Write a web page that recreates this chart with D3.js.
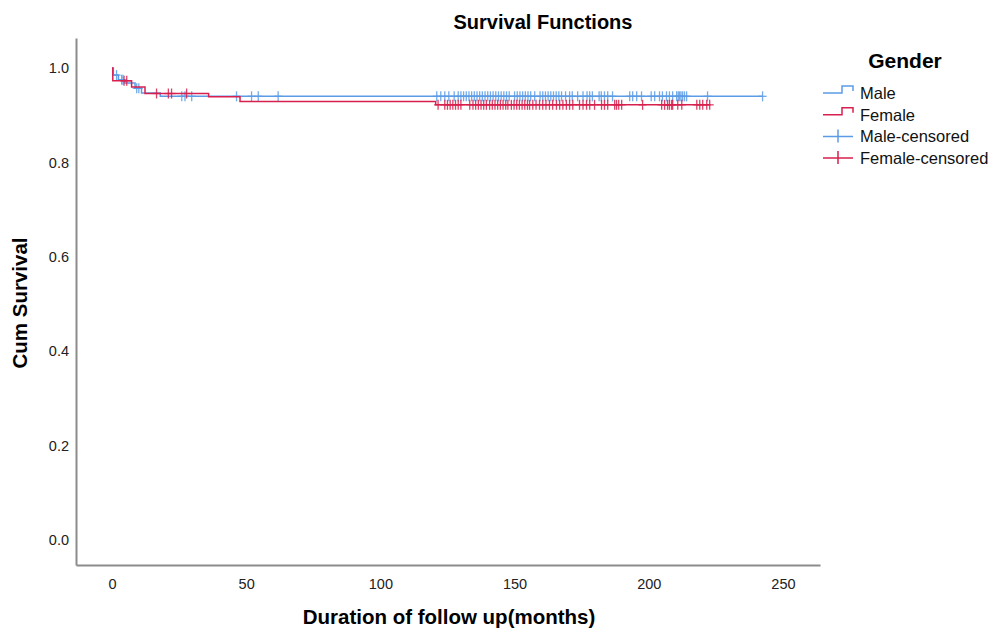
<!DOCTYPE html>
<html>
<head>
<meta charset="utf-8">
<script src="https://cdn.jsdelivr.net/npm/d3@7"></script>
<style>
  body { margin: 0; background: #fff; }
  text { font-family: Arial, "Liberation Sans", sans-serif; }
</style>
</head>
<body>
<script>
// step changes of the survival curves (time in months, cumulative survival)
const maleTimes = [0, 0.5, 2.4, 4.8, 8.6, 11, 18];
const maleSurv = [1.0, 0.985, 0.975, 0.968, 0.957, 0.947, 0.940];
const maleEnd = 242.4;

const femaleTimes = [0, 0.3, 7.3, 12.3, 36, 47.7, 120.6];
const femaleSurv = [1.0, 0.973, 0.960, 0.946, 0.939, 0.929, 0.922];
const femaleEnd = 222.7;

// censored observations
const maleCensored = [1.7, 3.6, 4.1, 9.2, 10, 26, 27.2, 29.7, 46.4, 52, 54.5, 61.9,
  121, 122.5, 124, 125.5, 127.5, 129, 130, 131, 132, 133, 134, 135, 136, 137, 138, 139,
  140, 141, 142, 143, 144, 145, 146, 147, 148, 150, 151, 152, 153, 154, 155, 156, 157.5,
  159.5, 160.5, 161.5, 162.5, 163.5, 164.5, 165.5, 166.5, 167.5, 169, 170.5, 171.5, 173.5,
  175.5, 177, 178, 179, 181.5, 182.3, 183.5, 184.7, 186.5, 192.9, 194, 195.5, 197.3, 200.9,
  202.2, 204, 205.1, 206.6, 207.7, 208.9, 210.4, 211, 211.5, 212, 212.6, 213.3, 214.1,
  221.9, 242.4];
const femaleCensored = [4.5, 5.5, 16.6, 21, 22.2, 27.8,
  121.5, 124, 125, 126, 127, 128, 129, 130, 133.3, 134.5, 135.5, 136.5, 137.5, 138.5, 139.5,
  140.7, 141.7, 142.7, 143.7, 144.7, 145.7, 146.7, 147.5, 148.8, 149.8, 150.8, 151.8, 152.8,
  153.8, 154.8, 155.6, 156.8, 158, 159.3, 160.5, 161.7, 163, 164.2, 165.6, 166.8, 168, 169.3,
  170.5, 171.7, 174.2, 175.5, 176.8, 178, 179.8, 182.4, 183.5, 184.7, 187.3, 188, 188.8,
  189.9, 197.7, 204.8, 205.9, 207, 207.7, 208.5, 208.9, 210.8, 212.3, 217.9, 219, 220.1,
  221.6, 222.7];

const xTicks = [0, 50, 100, 150, 200, 250];
const yTicks = [0, 0.2, 0.4, 0.6, 0.8, 1.0];
const legendLabels = ["Male", "Female", "Male-censored", "Female-censored"];

const blue = "#5c9ce6";
const red = "#d8204e";

const width = 991, height = 628;
const svg = d3.select("body").append("svg")
  .attr("width", width)
  .attr("height", height);

const x = d3.scaleLinear().domain([-13.41, 263.8]).range([76, 820]);
const y = d3.scaleLinear().domain([-0.053, 1.0636]).range([565, 38]);

// axes
const xAxis = svg.append("g")
  .attr("transform", "translate(0,565)")
  .call(d3.axisBottom(x).tickValues(xTicks).tickSize(0).tickPadding(14));
const yAxis = svg.append("g")
  .attr("transform", "translate(76,0)")
  .call(d3.axisLeft(y).tickValues(yTicks).tickFormat(d3.format(".1f")).tickSize(0).tickPadding(7));

[xAxis, yAxis].forEach(g => {
  g.select(".domain").attr("stroke", "#8c8c8c").attr("stroke-width", 2);
  g.selectAll("text").attr("fill", "#222").style("font-size", "14.5px");
});

// step lines
const stepLine = d3.line()
  .x(d => x(d[0]))
  .y(d => y(d[1]))
  .curve(d3.curveStepAfter);

function curvePoints(times, surv, end) {
  const pts = times.map((t, i) => [t, surv[i]]);
  pts.push([end, surv[surv.length - 1]]);
  return pts;
}

function survAt(times, surv, t) {
  let v = surv[0];
  times.forEach((tt, i) => { if (tt <= t) v = surv[i]; });
  return v;
}

const groups = [
  { times: maleTimes, surv: maleSurv, end: maleEnd, cens: maleCensored, color: blue },
  { times: femaleTimes, surv: femaleSurv, end: femaleEnd, cens: femaleCensored, color: red }
];

groups.forEach(g => {
  svg.append("path")
    .datum(curvePoints(g.times, g.surv, g.end))
    .attr("fill", "none")
    .attr("stroke", g.color)
    .attr("stroke-width", 1.5)
    .attr("d", stepLine);

  const marks = svg.append("g")
    .selectAll("g")
    .data(g.cens)
    .join("g")
    .attr("transform", d => `translate(${x(d)},${y(survAt(g.times, g.surv, d))})`)
    .attr("stroke", g.color)
    .attr("stroke-width", 1.3)
    .attr("opacity", 0.85);
  marks.append("line").attr("x1", 0).attr("x2", 0).attr("y1", -5).attr("y2", 5);
  marks.append("line").attr("x1", -4).attr("x2", 4).attr("y1", 0).attr("y2", 0);
});

// title and axis labels
svg.append("text")
  .attr("x", 543).attr("y", 29)
  .attr("text-anchor", "middle")
  .style("font-size", "20px").style("font-weight", "bold")
  .text("Survival Functions");

svg.append("text")
  .attr("x", 449).attr("y", 624)
  .attr("text-anchor", "middle")
  .style("font-size", "20.5px").style("font-weight", "bold")
  .text("Duration of follow up(months)");

svg.append("text")
  .attr("transform", "translate(27,303) rotate(-90)")
  .attr("text-anchor", "middle")
  .style("font-size", "20.5px").style("font-weight", "bold")
  .text("Cum Survival");

// legend
const legend = svg.append("g");
legend.append("text")
  .attr("x", 905).attr("y", 68)
  .attr("text-anchor", "middle")
  .style("font-size", "21px").style("font-weight", "bold")
  .text("Gender");

const legendColors = [blue, red, blue, red];
const rows = legend.selectAll("g.row")
  .data(legendLabels)
  .join("g")
  .attr("class", "row")
  .attr("transform", (d, i) => `translate(823,${93 + i * 21.7})`);

rows.append("path")
  .attr("fill", "none")
  .attr("stroke", (d, i) => legendColors[i])
  .attr("stroke-width", 1.5)
  .attr("d", (d, i) => i < 2 ? "M0,0H19V-7H30V-2" : "M0,0H30M15,-7V6");

rows.append("text")
  .attr("x", 37).attr("y", 6)
  .style("font-size", "16.5px")
  .attr("fill", "#111")
  .text(d => d);
</script>
</body>
</html>
